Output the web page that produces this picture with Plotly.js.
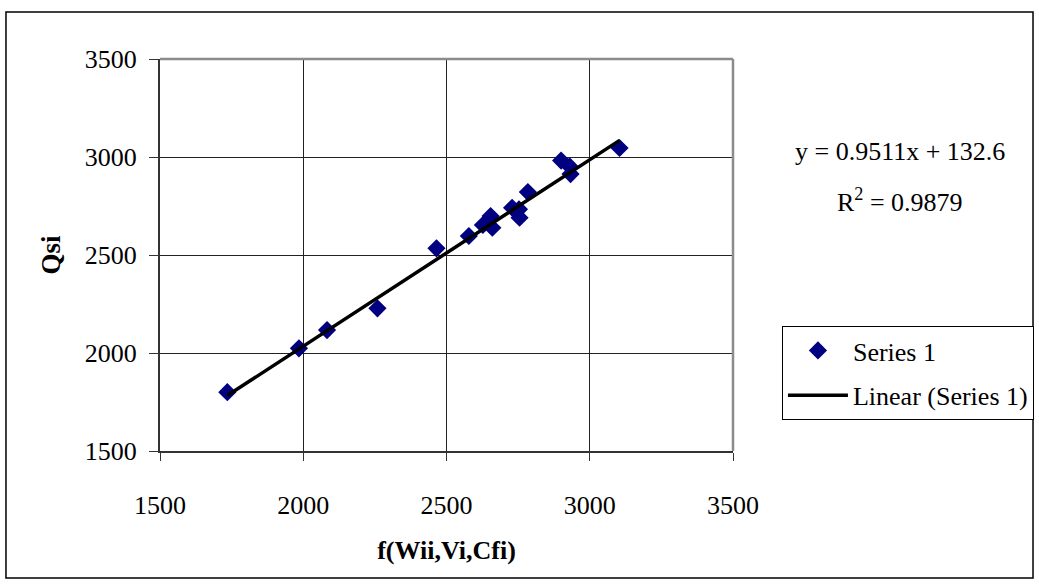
<!DOCTYPE html>
<html>
<head>
<meta charset="utf-8">
<script src="https://cdn.plot.ly/plotly-3.0.1.min.js"></script>
<style>html,body{margin:0;padding:0;background:#fff;}#chart{width:1039px;height:585px;}</style>
</head>
<body>
<div id="chart"></div>
<script>
// Data
const fValues = [1735, 1985, 2083, 2259, 2465, 2578, 2627, 2654, 2660, 2729, 2753, 2755, 2784, 2900, 2930, 2933, 3104];
const qsiValues = [1800, 2024, 2117, 2228, 2534, 2597, 2653, 2699, 2639, 2741, 2733, 2690, 2821, 2982, 2952, 2913, 3046];
const slope = 0.9511;
const intercept = 132.6;
const rSquared = 0.9879;
const xTicks = [1500, 2000, 2500, 3000, 3500];
const yTicks = [1500, 2000, 2500, 3000, 3500];

const xMin = Math.min(...fValues), xMax = Math.max(...fValues);
const trendX = [xMin, xMax];
const trendY = trendX.map(v => slope * v + intercept);

const font = 'Liberation Serif, Times New Roman, serif';
const fs = 26;

const traces = [
  {
    x: fValues, y: qsiValues, mode: 'markers', type: 'scatter', name: 'Series 1',
    legendgroup: 'a',
    marker: {symbol: 'diamond', size: 14, color: '#000080'}
  },
  {
    x: trendX, y: trendY, mode: 'lines', type: 'scatter', name: 'Linear (Series 1)',
    legendgroup: 'b',
    line: {color: '#000000', width: 3.5}
  }
];

const layout = {
  width: 1039, height: 585,
  margin: {l: 160, r: 306, t: 59, b: 134, autoexpand: false},
  paper_bgcolor: '#ffffff', plot_bgcolor: '#ffffff',
  font: {family: font, size: fs, color: '#000'},
  showlegend: true,
  legend: {
    xref: 'container', yref: 'container',
    x: 0.7526, y: 0.4427, xanchor: 'left', yanchor: 'top',
    bordercolor: '#000', borderwidth: 1, bgcolor: '#fff',
    font: {family: font, size: fs, color: '#000'},
    traceorder: 'grouped', tracegroupgap: 8, itemwidth: 60
  },
  xaxis: {
    range: [1500, 3500], tickvals: xTicks, ticktext: xTicks.map(String),
    showgrid: true, gridcolor: '#222', gridwidth: 1,
    zeroline: false, showline: true, linecolor: '#333', linewidth: 2,
    ticks: 'outside', ticklen: 8, tickcolor: '#333', tickwidth: 1,
    ticklabelstandoff: 22, automargin: false,
    tickfont: {family: font, size: fs},
    title: {text: '<b>f(Wii,Vi,Cfi)</b>', font: {family: font, size: fs}, standoff: 22}
  },
  yaxis: {
    range: [1500, 3500], tickvals: yTicks, ticktext: yTicks.map(String),
    showgrid: true, gridcolor: '#222', gridwidth: 1,
    zeroline: false, showline: true, linecolor: '#333', linewidth: 2,
    ticks: 'outside', ticklen: 9, tickcolor: '#333', tickwidth: 1,
    ticklabelstandoff: 7, automargin: false,
    tickfont: {family: font, size: fs},
    title: {text: '<b>Qsi</b>', font: {family: font, size: 27}, standoff: 16}
  },
  shapes: [
    {type: 'line', xref: 'paper', yref: 'paper', x0: 0, x1: 1, y0: 1, y1: 1, line: {color: '#8c8c8c', width: 2.5}},
    {type: 'line', xref: 'paper', yref: 'paper', x0: 1, x1: 1, y0: 0, y1: 1, line: {color: '#8c8c8c', width: 2.5}},
    {type: 'rect', xref: 'paper', yref: 'paper', x0: -0.2688, x1: 1.5236, y0: -0.324, y1: 1.1199, line: {color: '#000', width: 1.5}}
  ],
  annotations: [
    {xref: 'paper', yref: 'paper', x: 1.2914, y: 0.765, xanchor: 'center', yanchor: 'middle', showarrow: false,
     text: 'y = ' + slope + 'x + ' + intercept, font: {family: font, size: fs}},
    {xref: 'paper', yref: 'paper', x: 1.2914, y: 0.640, xanchor: 'center', yanchor: 'middle', showarrow: false,
     text: 'R<sup>2</sup> = ' + rSquared, font: {family: font, size: fs}}
  ]
};

Plotly.newPlot('chart', traces, layout, {displayModeBar: false, staticPlot: true});
</script>
</body>
</html>
